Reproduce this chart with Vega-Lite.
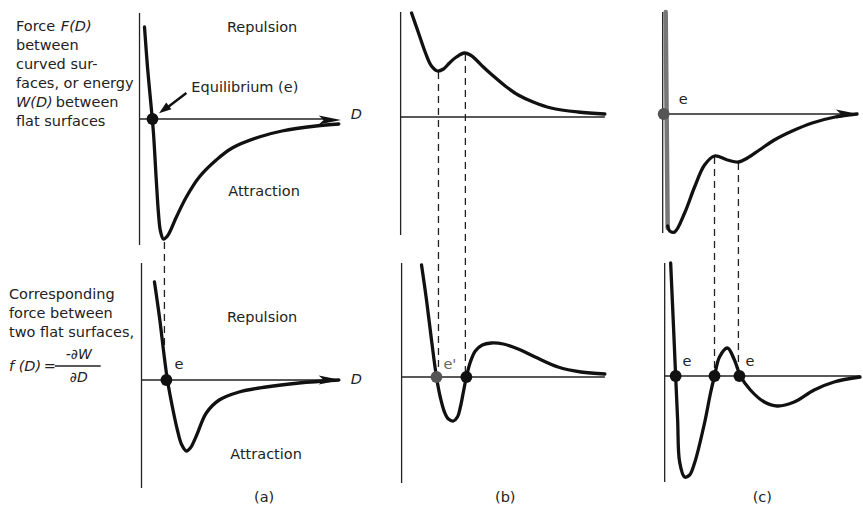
{
  "$schema": "https://vega.github.io/schema/vega-lite/v6.json",
  "width": 863,
  "height": 506,
  "padding": 0,
  "autosize": {"type": "fit", "contains": "padding"},
  "background": "white",
  "config": {"view": {"stroke": null}},
  "datasets": {
    "axes": [
      {"id": "aTv", "k": 1, "x": 140, "y": 13}, {"id": "aTv", "k": 2, "x": 140, "y": 245},
      {"id": "aTh", "k": 1, "x": 140, "y": 119}, {"id": "aTh", "k": 2, "x": 328, "y": 119},
      {"id": "aBv", "k": 1, "x": 142, "y": 263}, {"id": "aBv", "k": 2, "x": 142, "y": 488},
      {"id": "aBh", "k": 1, "x": 142, "y": 380}, {"id": "aBh", "k": 2, "x": 328, "y": 380},
      {"id": "bTv", "k": 1, "x": 402, "y": 12}, {"id": "bTv", "k": 2, "x": 402, "y": 235},
      {"id": "bTh", "k": 1, "x": 402, "y": 117}, {"id": "bTh", "k": 2, "x": 607, "y": 117},
      {"id": "bBv", "k": 1, "x": 403, "y": 263}, {"id": "bBv", "k": 2, "x": 403, "y": 483},
      {"id": "bBh", "k": 1, "x": 403, "y": 377}, {"id": "bBh", "k": 2, "x": 607, "y": 377},
      {"id": "cTv", "k": 1, "x": 665, "y": 12}, {"id": "cTv", "k": 2, "x": 665, "y": 233},
      {"id": "cTh", "k": 1, "x": 665, "y": 114}, {"id": "cTh", "k": 2, "x": 860, "y": 114},
      {"id": "cBv", "k": 1, "x": 667, "y": 263}, {"id": "cBv", "k": 2, "x": 667, "y": 482},
      {"id": "cBh", "k": 1, "x": 667, "y": 376}, {"id": "cBh", "k": 2, "x": 863, "y": 376},
      {"id": "frac", "k": 1, "x": 55, "y": 366}, {"id": "frac", "k": 2, "x": 101, "y": 366}
    ],
    "dashes": [
      {"id": "a1", "x": 165, "y": 242}, {"id": "a1", "x": 165, "y": 345},
      {"id": "b1", "x": 440, "y": 72}, {"id": "b1", "x": 440, "y": 377},
      {"id": "b2", "x": 467, "y": 54}, {"id": "b2", "x": 467, "y": 377},
      {"id": "c1", "x": 717, "y": 157}, {"id": "c1", "x": 717, "y": 376},
      {"id": "c2", "x": 741, "y": 163}, {"id": "c2", "x": 741, "y": 376}
    ],
    "curves": [
      {"id": "aT", "k": 1, "x": 145, "y": 27}, {"id": "aT", "k": 2, "x": 148, "y": 67},
      {"id": "aT", "k": 3, "x": 152, "y": 110}, {"id": "aT", "k": 4, "x": 154, "y": 133},
      {"id": "aT", "k": 5, "x": 157, "y": 183}, {"id": "aT", "k": 6, "x": 159, "y": 213},
      {"id": "aT", "k": 7, "x": 161, "y": 231}, {"id": "aT", "k": 8, "x": 164, "y": 239},
      {"id": "aT", "k": 9, "x": 168, "y": 236}, {"id": "aT", "k": 10, "x": 177, "y": 217},
      {"id": "aT", "k": 11, "x": 187, "y": 197}, {"id": "aT", "k": 12, "x": 200, "y": 177},
      {"id": "aT", "k": 13, "x": 217, "y": 160}, {"id": "aT", "k": 14, "x": 233, "y": 148},
      {"id": "aT", "k": 15, "x": 260, "y": 137}, {"id": "aT", "k": 16, "x": 283, "y": 131},
      {"id": "aT", "k": 17, "x": 317, "y": 126}, {"id": "aT", "k": 18, "x": 340, "y": 124},

      {"id": "aB", "k": 1, "x": 155, "y": 282}, {"id": "aB", "k": 2, "x": 160, "y": 317},
      {"id": "aB", "k": 3, "x": 165, "y": 358}, {"id": "aB", "k": 4, "x": 168, "y": 380},
      {"id": "aB", "k": 5, "x": 173, "y": 407}, {"id": "aB", "k": 6, "x": 178, "y": 430},
      {"id": "aB", "k": 7, "x": 182, "y": 444}, {"id": "aB", "k": 8, "x": 187, "y": 451},
      {"id": "aB", "k": 9, "x": 191, "y": 448}, {"id": "aB", "k": 10, "x": 197, "y": 436},
      {"id": "aB", "k": 11, "x": 207, "y": 413}, {"id": "aB", "k": 12, "x": 220, "y": 400},
      {"id": "aB", "k": 13, "x": 240, "y": 392}, {"id": "aB", "k": 14, "x": 267, "y": 387},
      {"id": "aB", "k": 15, "x": 300, "y": 383}, {"id": "aB", "k": 16, "x": 340, "y": 380},

      {"id": "bT", "k": 1, "x": 413, "y": 13}, {"id": "bT", "k": 2, "x": 420, "y": 33},
      {"id": "bT", "k": 3, "x": 427, "y": 53}, {"id": "bT", "k": 4, "x": 433, "y": 66},
      {"id": "bT", "k": 5, "x": 439, "y": 71}, {"id": "bT", "k": 6, "x": 445, "y": 69},
      {"id": "bT", "k": 7, "x": 451, "y": 63}, {"id": "bT", "k": 8, "x": 458, "y": 57},
      {"id": "bT", "k": 9, "x": 466, "y": 53}, {"id": "bT", "k": 10, "x": 472, "y": 55},
      {"id": "bT", "k": 11, "x": 478, "y": 60}, {"id": "bT", "k": 12, "x": 485, "y": 67},
      {"id": "bT", "k": 13, "x": 495, "y": 76}, {"id": "bT", "k": 14, "x": 507, "y": 86},
      {"id": "bT", "k": 15, "x": 520, "y": 95}, {"id": "bT", "k": 16, "x": 535, "y": 102},
      {"id": "bT", "k": 17, "x": 553, "y": 108}, {"id": "bT", "k": 18, "x": 580, "y": 112},
      {"id": "bT", "k": 19, "x": 607, "y": 114},

      {"id": "bB", "k": 1, "x": 423, "y": 265}, {"id": "bB", "k": 2, "x": 428, "y": 300},
      {"id": "bB", "k": 3, "x": 433, "y": 340}, {"id": "bB", "k": 4, "x": 438, "y": 377},
      {"id": "bB", "k": 5, "x": 442, "y": 398}, {"id": "bB", "k": 6, "x": 446, "y": 412},
      {"id": "bB", "k": 7, "x": 450, "y": 419}, {"id": "bB", "k": 8, "x": 455, "y": 421},
      {"id": "bB", "k": 9, "x": 459, "y": 417}, {"id": "bB", "k": 10, "x": 462, "y": 407},
      {"id": "bB", "k": 11, "x": 465, "y": 392}, {"id": "bB", "k": 12, "x": 468, "y": 377},
      {"id": "bB", "k": 13, "x": 472, "y": 362}, {"id": "bB", "k": 14, "x": 477, "y": 351},
      {"id": "bB", "k": 15, "x": 484, "y": 345}, {"id": "bB", "k": 16, "x": 493, "y": 343},
      {"id": "bB", "k": 17, "x": 505, "y": 344}, {"id": "bB", "k": 18, "x": 520, "y": 349},
      {"id": "bB", "k": 19, "x": 537, "y": 357}, {"id": "bB", "k": 20, "x": 560, "y": 367},
      {"id": "bB", "k": 21, "x": 583, "y": 372}, {"id": "bB", "k": 22, "x": 607, "y": 374},

      {"id": "cT", "k": 1, "x": 670, "y": 226}, {"id": "cT", "k": 2, "x": 672, "y": 231},
      {"id": "cT", "k": 3, "x": 677, "y": 232}, {"id": "cT", "k": 4, "x": 687, "y": 213},
      {"id": "cT", "k": 5, "x": 697, "y": 187}, {"id": "cT", "k": 6, "x": 707, "y": 165},
      {"id": "cT", "k": 7, "x": 717, "y": 156}, {"id": "cT", "k": 8, "x": 730, "y": 160},
      {"id": "cT", "k": 9, "x": 741, "y": 162}, {"id": "cT", "k": 10, "x": 750, "y": 158},
      {"id": "cT", "k": 11, "x": 762, "y": 150}, {"id": "cT", "k": 12, "x": 777, "y": 140},
      {"id": "cT", "k": 13, "x": 795, "y": 131}, {"id": "cT", "k": 14, "x": 815, "y": 123},
      {"id": "cT", "k": 15, "x": 838, "y": 117}, {"id": "cT", "k": 16, "x": 860, "y": 114},

      {"id": "cB", "k": 1, "x": 673, "y": 263}, {"id": "cB", "k": 2, "x": 676, "y": 330},
      {"id": "cB", "k": 3, "x": 678, "y": 376}, {"id": "cB", "k": 4, "x": 680, "y": 420},
      {"id": "cB", "k": 5, "x": 682, "y": 462}, {"id": "cB", "k": 6, "x": 687, "y": 477},
      {"id": "cB", "k": 7, "x": 692, "y": 475}, {"id": "cB", "k": 8, "x": 697, "y": 463},
      {"id": "cB", "k": 9, "x": 707, "y": 423}, {"id": "cB", "k": 10, "x": 713, "y": 393},
      {"id": "cB", "k": 11, "x": 717, "y": 376}, {"id": "cB", "k": 12, "x": 722, "y": 357},
      {"id": "cB", "k": 13, "x": 730, "y": 348}, {"id": "cB", "k": 14, "x": 737, "y": 360},
      {"id": "cB", "k": 15, "x": 743, "y": 376}, {"id": "cB", "k": 16, "x": 753, "y": 390},
      {"id": "cB", "k": 17, "x": 767, "y": 402}, {"id": "cB", "k": 18, "x": 780, "y": 406},
      {"id": "cB", "k": 19, "x": 797, "y": 402}, {"id": "cB", "k": 20, "x": 817, "y": 390},
      {"id": "cB", "k": 21, "x": 837, "y": 382}, {"id": "cB", "k": 22, "x": 863, "y": 377}
    ],
    "grayCurve": [
      {"id": "cTg", "k": 1, "x": 668, "y": 12}, {"id": "cTg", "k": 2, "x": 669, "y": 120},
      {"id": "cTg", "k": 3, "x": 670, "y": 228}
    ],
    "pointer": [
      {"id": "p", "k": 1, "x": 187, "y": 93}, {"id": "p", "k": 2, "x": 166, "y": 109}
    ],
    "arrowsRight": [
      {"x": 331, "y": 120}, {"x": 331, "y": 380}, {"x": 850, "y": 114}
    ],
    "arrowTip": [{"x": 164.5, "y": 109.5}],
    "dotsBlack": [
      {"x": 153, "y": 119}, {"x": 167, "y": 380}, {"x": 468, "y": 377},
      {"x": 678, "y": 376}, {"x": 717, "y": 376}, {"x": 742, "y": 376}
    ],
    "dotsGray": [
      {"x": 438, "y": 377}, {"x": 666, "y": 114}
    ],
    "textCenter": [
      {"x": 263, "y": 28, "t": "Repulsion"},
      {"x": 265, "y": 192, "t": "Attraction"},
      {"x": 263, "y": 318, "t": "Repulsion"},
      {"x": 267, "y": 455, "t": "Attraction"},
      {"x": 265, "y": 498, "t": "(a)"},
      {"x": 507, "y": 498, "t": "(b)"},
      {"x": 765, "y": 498, "t": "(c)"}
    ],
    "textLeft": [
      {"x": 192, "y": 88, "t": "Equilibrium (e)"},
      {"x": 16, "y": 27, "t": "Force"},
      {"x": 16, "y": 46, "t": "between"},
      {"x": 16, "y": 65, "t": "curved sur-"},
      {"x": 16, "y": 84, "t": "faces, or energy"},
      {"x": 56, "y": 103, "t": "between"},
      {"x": 16, "y": 122, "t": "flat surfaces"},
      {"x": 9, "y": 295, "t": "Corresponding"},
      {"x": 9, "y": 314, "t": "force between"},
      {"x": 9, "y": 333, "t": "two flat surfaces,"},
      {"x": 44, "y": 367, "t": "="},
      {"x": 175, "y": 365, "t": "e"},
      {"x": 681, "y": 100, "t": "e"},
      {"x": 685, "y": 362, "t": "e"},
      {"x": 748, "y": 362, "t": "e"}
    ],
    "textItalic": [
      {"x": 61, "y": 27, "t": "F(D)"},
      {"x": 16, "y": 103, "t": "W(D)"},
      {"x": 9, "y": 367, "t": "f (D)"},
      {"x": 352, "y": 115, "t": "D"},
      {"x": 352, "y": 380, "t": "D"}
    ],
    "textFrac": [
      {"x": 79, "y": 355, "t": "-∂W"},
      {"x": 79, "y": 378, "t": "∂D"}
    ],
    "textGray": [
      {"x": 445, "y": 365, "t": "e'"}
    ]
  },
  "encoding": {
    "x": {"field": "x", "type": "quantitative", "scale": {"domain": [0, 863], "nice": false, "zero": false}, "axis": null},
    "y": {"field": "y", "type": "quantitative", "scale": {"domain": [0, 506], "nice": false, "zero": false, "reverse": true}, "axis": null}
  },
  "layer": [
    {
      "data": {"name": "axes"},
      "mark": {"type": "line", "color": "#222", "strokeWidth": 1.3},
      "encoding": {"detail": {"field": "id"}, "order": {"field": "k"}}
    },
    {
      "data": {"name": "dashes"},
      "mark": {"type": "line", "color": "#222", "strokeWidth": 1.3, "strokeDash": [7, 5]},
      "encoding": {"detail": {"field": "id"}}
    },
    {
      "data": {"name": "grayCurve"},
      "mark": {"type": "line", "color": "#777", "strokeWidth": 4.5, "strokeCap": "round"},
      "encoding": {"detail": {"field": "id"}, "order": {"field": "k"}}
    },
    {
      "data": {"name": "curves"},
      "mark": {"type": "line", "color": "#111", "strokeWidth": 3.3, "interpolate": "catmull-rom", "strokeCap": "round", "strokeJoin": "round"},
      "encoding": {"detail": {"field": "id"}, "order": {"field": "k"}}
    },
    {
      "data": {"name": "pointer"},
      "mark": {"type": "line", "color": "#111", "strokeWidth": 2.5},
      "encoding": {"detail": {"field": "id"}, "order": {"field": "k"}}
    },
    {
      "data": {"name": "arrowsRight"},
      "mark": {"type": "point", "filled": true, "color": "#111", "opacity": 1, "size": 500, "shape": "M1,0L-1,-0.4L-0.55,0L-1,0.4Z"}
    },
    {
      "data": {"name": "arrowTip"},
      "mark": {"type": "point", "filled": true, "color": "#111", "opacity": 1, "size": 150, "angle": 143, "shape": "M1,0L-1,-0.7L-1,0.7Z"}
    },
    {
      "data": {"name": "dotsBlack"},
      "mark": {"type": "circle", "color": "#111", "opacity": 1, "size": 140}
    },
    {
      "data": {"name": "dotsGray"},
      "mark": {"type": "circle", "color": "#555", "opacity": 1, "size": 140}
    },
    {
      "data": {"name": "textCenter"},
      "mark": {"type": "text", "font": "DejaVu Sans", "fontSize": 14.5, "color": "#222", "align": "center", "baseline": "middle"},
      "encoding": {"text": {"field": "t"}}
    },
    {
      "data": {"name": "textLeft"},
      "mark": {"type": "text", "font": "DejaVu Sans", "fontSize": 14.5, "color": "#222", "align": "left", "baseline": "middle"},
      "encoding": {"text": {"field": "t"}}
    },
    {
      "data": {"name": "textItalic"},
      "mark": {"type": "text", "font": "DejaVu Sans", "fontSize": 14.5, "fontStyle": "italic", "color": "#222", "align": "left", "baseline": "middle"},
      "encoding": {"text": {"field": "t"}}
    },
    {
      "data": {"name": "textFrac"},
      "mark": {"type": "text", "font": "DejaVu Sans", "fontSize": 14, "fontStyle": "italic", "color": "#222", "align": "center", "baseline": "middle"},
      "encoding": {"text": {"field": "t"}}
    },
    {
      "data": {"name": "textGray"},
      "mark": {"type": "text", "font": "DejaVu Sans", "fontSize": 14.5, "color": "#666", "align": "left", "baseline": "middle"},
      "encoding": {"text": {"field": "t"}}
    }
  ]
}
